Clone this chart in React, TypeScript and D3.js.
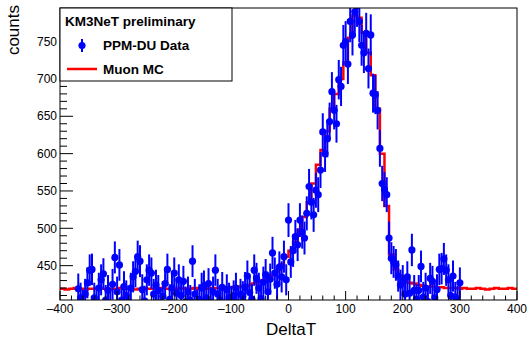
import React from "react";
import * as d3 from "d3";

// Data histogram (bin centers, width 4)
const dataStart = -368;
const dataStep = 4;
const dataCounts = [
  419, 407, 398, 412, 427, 444, 445, 407, 400, 420,
  431, 439, 404, 417, 396, 425, 461, 415, 451, 404,
  422, 410, 402, 420, 435, 442, 462, 456, 418, 403,
  431, 444, 440, 412, 424, 417, 400, 409, 426, 445,
  405, 420, 440, 413, 431, 410, 429, 402, 415, 404,
  456, 412, 398, 405, 420, 423, 407, 426, 401, 415,
  444, 412, 404, 421, 399, 418, 407, 403, 410, 420,
  400, 412, 409, 421, 436, 414, 405, 444, 433, 420,
  406, 428, 438, 415, 432, 467, 440, 425, 448, 435,
  462, 431, 511, 455, 470, 489, 478, 511, 495, 487,
  520, 556, 535, 518, 551, 545, 578, 629, 600, 620,
  643, 683, 658, 640, 699, 690, 745, 750, 720, 777,
  759, 790, 798, 777, 745, 735, 761, 714, 759, 681,
  679, 658, 607, 560, 552, 545, 487, 460, 455, 451,
  436, 424, 430, 412, 435, 413, 471, 417, 405, 417,
  449, 408, 420, 402, 433, 429, 407, 418, 445, 446,
  459, 444, 431, 410, 436, 408, 403, 427,
];

// Muon MC histogram (bin low edges, width 8, from -400 to 400)
const mcStart = -400;
const mcStep = 8;
const mcCounts = [
  419, 418, 419, 420, 419, 418, 419, 419, 420, 419,
  418, 419, 419, 420, 419, 419, 418, 419, 420, 419,
  419, 419, 420, 419, 418, 419, 420, 419, 419, 420,
  419, 420, 419, 420, 420, 421, 420, 421, 422, 422,
  423, 424, 426, 428, 430, 433, 437, 442, 452, 462,
  470, 482, 498, 515, 535, 560, 585, 605, 630, 660,
  680, 700, 722, 755, 785, 782, 762, 735, 705, 660,
  600, 530, 465, 445, 436, 430, 427, 426, 424, 423,
  422, 422, 421, 421, 420, 420, 420, 419, 420, 419,
  419, 420, 419, 418, 419, 420, 419, 419, 420, 419,
];

const xTicks = [-400, -300, -200, -100, 0, 100, 200, 300, 400];
const yTicks = [450, 500, 550, 600, 650, 700, 750];

const W = 528;
const H = 338;
const L = 60, R = 517, T = 8, B = 300;

export default function App() {
  const x = d3.scaleLinear().domain([-400, 400]).range([L, R]);
  const y = d3.scaleLinear().domain([404, 795]).range([B, T]);

  const dataPts = dataCounts.map((v, i) => ({ x: dataStart + i * dataStep, v, e: Math.sqrt(v) }));
  const mcPts = mcCounts.map((v, i) => ({ x: mcStart + i * mcStep, v }));
  mcPts.push({ x: 400, v: mcCounts[mcCounts.length - 1] });
  const mcLine = d3.line<{ x: number; v: number }>()
    .x((d) => x(d.x))
    .y((d) => y(d.v))
    .curve(d3.curveStepAfter)(mcPts) || "";

  const xMinor = d3.range(-400, 401, 20);
  const yMinor = d3.range(410, 795, 10);
  const font = "'Liberation Sans', Arial, Helvetica, sans-serif";

  return (
    <svg width={W} height={H} style={{ position: "absolute", left: 0, top: 0, background: "#fff" }} fontFamily={font}>
      <defs>
        <clipPath id="frame">
          <rect x={L} y={T} width={R - L} height={B - T} />
        </clipPath>
      </defs>
      <rect x={0} y={0} width={W} height={H} fill="#fff" />
      <g clipPath="url(#frame)">
        <path d={mcLine} fill="none" stroke="#ff0000" strokeWidth={2.5} />
        {dataPts.map((d, i) => (
          <g key={i}>
            <line x1={x(d.x)} x2={x(d.x)} y1={y(d.v - d.e)} y2={y(d.v + d.e)} stroke="#0000ff" strokeWidth={2} />
            <circle cx={x(d.x)} cy={y(d.v)} r={3.6} fill="#0000ff" />
          </g>
        ))}
      </g>
      {/* frame */}
      <rect x={L} y={T} width={R - L} height={B - T} fill="none" stroke="#000" strokeWidth={1} />
      {/* x ticks */}
      {xMinor.map((t) => (
        <line key={"xm" + t} x1={x(t)} x2={x(t)} y1={B} y2={B - (t % 100 === 0 ? 9 : 4.5)} stroke="#000" />
      ))}
      {xTicks.map((t) => (
        <text key={"xl" + t} x={x(t)} y={313} textAnchor="middle" fontSize={12} fill="#000">
          {t < 0 ? "\u2013" + Math.abs(t) : String(t)}
        </text>
      ))}
      {/* y ticks */}
      {yMinor.map((t) => (
        <line key={"ym" + t} x1={L} x2={L + (t % 50 === 0 ? 13 : 7)} y1={y(t)} y2={y(t)} stroke="#000" />
      ))}
      {yTicks.map((t) => (
        <text key={"yl" + t} x={57} y={y(t)} dy="0.35em" textAnchor="end" fontSize={12} fill="#000">
          {t}
        </text>
      ))}
      {/* titles */}
      <text x={291} y={335} textAnchor="middle" fontSize={17} fill="#000">DeltaT</text>
      <text transform="translate(19,5) rotate(-90)" textAnchor="end" fontSize={17} fill="#000">counts</text>
      {/* legend */}
      <rect x={L} y={T} width={172} height={73} fill="#fff" stroke="#000" strokeWidth={1} />
      <text x={65} y={26} fontSize={13.5} fontWeight="bold" fill="#000">KM3NeT preliminary</text>
      <line x1={82} x2={82} y1={39} y2={52} stroke="#0000ff" strokeWidth={2} />
      <circle cx={82} cy={45.5} r={3.6} fill="#0000ff" />
      <text x={103} y={50} fontSize={13.5} fontWeight="bold" fill="#000">PPM-DU Data</text>
      <line x1={67} x2={97} y1={69} y2={69} stroke="#ff0000" strokeWidth={2.5} />
      <text x={103} y={74} fontSize={13.5} fontWeight="bold" fill="#000">Muon MC</text>
    </svg>
  );
}
